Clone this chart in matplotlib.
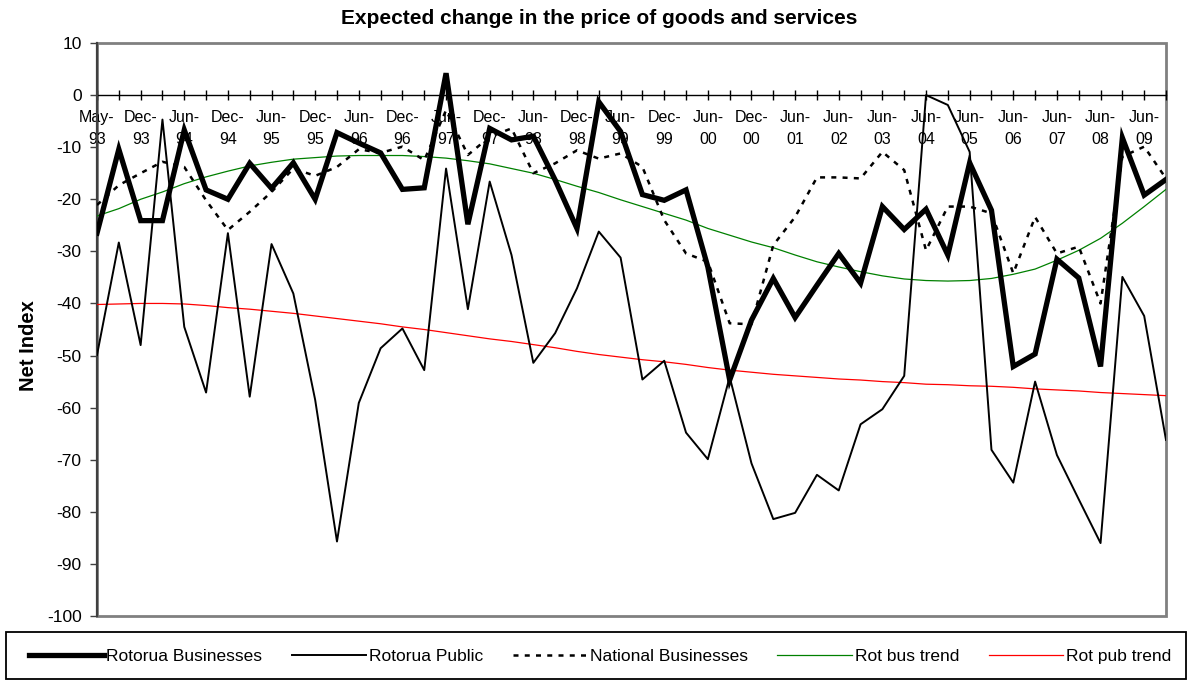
import matplotlib
matplotlib.use("Agg")
import matplotlib.pyplot as plt
from matplotlib.patches import Rectangle

plt.rcParams['font.family'] = ['Liberation Sans', 'DejaVu Sans']
plt.rcParams['axes.unicode_minus'] = False

# ---- data ----
categories = ["May-93", "Sep-93", "Dec-93", "Mar-94", "Jun-94", "Sep-94", "Dec-94", "Mar-95",
              "Jun-95", "Sep-95", "Dec-95", "Mar-96", "Jun-96", "Sep-96", "Dec-96", "Mar-97",
              "Jun-97", "Sep-97", "Dec-97", "Mar-98", "Jun-98", "Sep-98", "Dec-98", "Mar-99",
              "Jun-99", "Sep-99", "Dec-99", "Mar-00", "Jun-00", "Sep-00", "Dec-00", "Mar-01",
              "Jun-01", "Dec-01", "Jun-02", "Dec-02", "Jun-03", "Dec-03", "Jun-04", "Dec-04",
              "Jun-05", "Dec-05", "Jun-06", "Dec-06", "Jun-07", "Dec-07", "Jun-08", "Dec-08",
              "Jun-09", "Sep-09"]

rotorua_businesses = [-26.5, -10.4, -24.1, -24.1, -6.7, -18.2, -20.0, -13.1, -17.9, -13.0,
                      -20.0, -7.2, -9.2, -11.1, -18.1, -17.8, 4.2, -24.8, -6.4, -8.6,
                      -7.9, -16.3, -25.6, -1.3, -7.0, -19.1, -20.2, -18.2, -33.0, -54.7,
                      -43.2, -35.2, -42.7, -36.5, -30.4, -36.1, -21.4, -25.8, -21.9, -30.7,
                      -13.0, -22.1, -52.1, -49.7, -31.5, -35.1, -52.1, -8.2, -19.2, -16.2]

rotorua_public = [-49.9, -28.3, -48.0, -4.7, -44.5, -57.1, -26.5, -57.9, -28.6, -38.1,
                  -58.5, -85.7, -59.1, -48.6, -44.8, -52.8, -14.1, -41.1, -16.6, -30.7,
                  -51.4, -45.7, -37.1, -26.2, -31.2, -54.6, -51.0, -64.8, -69.9, -54.1,
                  -70.7, -81.4, -80.2, -72.9, -75.9, -63.2, -60.3, -53.9, 0.0, -1.9,
                  -10.9, -68.1, -74.4, -55.0, -69.1, -77.6, -86.0, -34.9, -42.4, -66.2]

national_businesses = [-21.1, -17.3, -15.0, -12.8, -13.8, -20.2, -25.9, -22.4, -18.6, -14.1,
                       -15.5, -13.8, -10.4, -11.1, -9.9, -12.5, -2.9, -11.5, -8.0, -6.4,
                       -15.0, -13.1, -10.6, -12.2, -11.2, -13.8, -24.0, -30.4, -32.0, -43.8,
                       -44.0, -28.8, -23.4, -15.8, -15.8, -16.0, -10.9, -14.4, -29.8, -21.4,
                       -21.4, -22.7, -34.2, -23.4, -30.4, -29.1, -40.0, -11.8, -9.9, -16.0]

rot_bus_trend = [-23.2, -21.8, -20.0, -18.6, -17.0, -15.7, -14.6, -13.6, -12.9, -12.3,
                 -12.0, -11.7, -11.6, -11.6, -11.6, -11.8, -12.1, -12.6, -13.2, -14.1,
                 -15.0, -16.2, -17.5, -18.7, -20.1, -21.4, -22.7, -24.0, -25.6, -26.9,
                 -28.2, -29.3, -30.7, -32.0, -33.0, -33.9, -34.7, -35.3, -35.6, -35.7,
                 -35.6, -35.2, -34.4, -33.4, -31.7, -29.8, -27.5, -24.6, -21.4, -18.1]

rot_pub_trend = [-40.2, -40.1, -40.0, -40.0, -40.1, -40.4, -40.8, -41.1, -41.5, -41.9,
                 -42.4, -42.9, -43.4, -43.9, -44.5, -45.0, -45.6, -46.2, -46.8, -47.3,
                 -47.9, -48.5, -49.2, -49.8, -50.3, -50.8, -51.2, -51.7, -52.3, -52.8,
                 -53.2, -53.6, -53.9, -54.2, -54.5, -54.7, -55.0, -55.2, -55.5, -55.6,
                 -55.8, -55.9, -56.1, -56.4, -56.6, -56.8, -57.1, -57.3, -57.5, -57.7]

y_ticks = list(range(-100, 11, 10))

# ---- figure ----
W, H = 1192, 681
fig = plt.figure(figsize=(W / 100, H / 100), dpi=100)
ax = fig.add_axes([97 / W, 1 - 616 / H, (1166 - 97) / W, (616 - 43) / H])

x = list(range(len(categories)))
ax.plot(x, rot_pub_trend, color='#ff0000', lw=0.9, label='Rot pub trend', zorder=3)
ax.plot(x, rot_bus_trend, color='#008000', lw=0.9, label='Rot bus trend', zorder=3)
ax.plot(x, national_businesses, color='black', lw=1.8, ls=(0, (2, 2.5)),
        label='National Businesses', zorder=4)
ax.plot(x, rotorua_public, color='black', lw=1.4, label='Rotorua Public', zorder=5)
ax.plot(x, rotorua_businesses, color='black', lw=3.8, label='Rotorua Businesses',
        solid_joinstyle='miter', zorder=6)

ax.set_xlim(0, len(categories) - 1)
ax.set_ylim(-100, 10)

# frame
ax.add_patch(Rectangle((0, 0), 1, 1, transform=ax.transAxes, fill=False,
                       edgecolor='#808080', lw=2, zorder=1, clip_on=False))
ax.spines['top'].set_visible(False)
ax.spines['right'].set_visible(False)
ax.spines['left'].set_color('#404040')
ax.spines['left'].set_linewidth(1.6)
ax.spines['bottom'].set_position(('data', 0))
ax.spines['bottom'].set_color('black')
ax.spines['bottom'].set_linewidth(1.0)
ax.spines['bottom'].set_zorder(2)

ax.set_xticks(x)
ax.set_xticklabels([c.replace('-', '-\n') if i % 2 == 0 else '' for i, c in enumerate(categories)],
                   fontsize=11.5, linespacing=1.6)
ax.tick_params(axis='x', direction='inout', length=7, width=1, pad=7, colors='black')
ax.set_yticks(y_ticks)
ax.set_yticklabels([str(v) for v in y_ticks], fontsize=12.5)
ax.tick_params(axis='y', direction='out', length=5, width=1, pad=6, color='#404040')

fig.text(0.503, 1 - 19 / H, 'Expected change in the price of goods and services',
         ha='center', va='center', fontsize=15, fontweight='bold')
fig.text(29 / W, 1 - 346 / H, 'Net Index', rotation=90, ha='center', va='center',
         fontsize=14.5, fontweight='bold')

# legend
handles, labels = ax.get_legend_handles_labels()
order = [4, 3, 2, 1, 0]
leg = fig.legend([handles[i] for i in order], [labels[i] for i in order],
                 loc='center', bbox_to_anchor=(600 / W, 1 - 656 / H), ncol=5,
                 frameon=False, fontsize=12.5, handlelength=4.3, handletextpad=0.15,
                 columnspacing=1.7)
fig.patches.append(Rectangle((6 / W, 1 - 679 / H), (1186 - 6) / W, (679 - 632) / H,
                             transform=fig.transFigure, fill=False, edgecolor='black',
                             lw=1.3))

fig.savefig('out.png', dpi=100)
